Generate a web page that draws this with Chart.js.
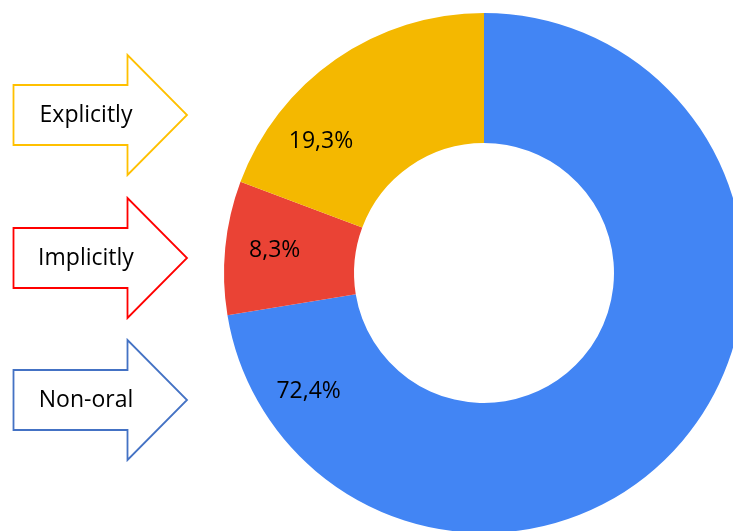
<!DOCTYPE html>
<html>
<head>
<meta charset="utf-8">
<script src="https://cdn.jsdelivr.net/npm/chart.js@4"></script>
<style>
  html, body { margin: 0; padding: 0; background: #fff; overflow: hidden; }
  #wrap { position: absolute; left: 0; top: 0; width: 744px; height: 533px; }
</style>
</head>
<body>
<div id="wrap"><canvas id="shareChart"></canvas></div>
<script>
// slice data (clockwise from the top)
const categories = ["Non-oral", "Implicitly", "Explicitly"];
const shares = [72.4, 8.3, 19.3];
const sliceColors = ["#4285F4", "#EA4335", "#F4B800"];
const arrowColors = ["#4472C4", "#FF0000", "#FFC000"];

// where each percentage sits along its slice (0 = start, 1 = end)
const labelAlong = [0.907, 0.53, 0.27];
// vertical centre of each arrow on the left
const arrowCenters = [400, 258, 115];

const FONT = "23px 'Open Sans', sans-serif";

function drawArrow(ctx, cy, color) {
  const left = 13.5, base = 127.5, tip = 187;
  ctx.beginPath();
  ctx.moveTo(left, cy - 30);
  ctx.lineTo(base, cy - 30);
  ctx.lineTo(base, cy - 60);
  ctx.lineTo(tip, cy);
  ctx.lineTo(base, cy + 60);
  ctx.lineTo(base, cy + 30);
  ctx.lineTo(left, cy + 30);
  ctx.closePath();
  ctx.fillStyle = "#fff";
  ctx.fill();
  ctx.lineWidth = 1.8;
  ctx.strokeStyle = color;
  ctx.stroke();
}

const annotations = {
  id: "annotations",
  afterDraw(chart) {
    const ctx = chart.ctx;
    ctx.save();
    ctx.font = FONT;
    ctx.textAlign = "center";
    ctx.textBaseline = "alphabetic";

    // arrows with category names
    categories.forEach(function (name, i) {
      drawArrow(ctx, arrowCenters[i], arrowColors[i]);
      ctx.fillStyle = "#000";
      ctx.fillText(name, 86, arrowCenters[i] + 7);
    });

    // percentage labels inside the ring
    ctx.fillStyle = "#000";
    const meta = chart.getDatasetMeta(0);
    meta.data.forEach(function (arc, i) {
      const p = arc.getProps(["x", "y", "startAngle", "endAngle", "outerRadius"], true);
      const a = p.startAngle + (p.endAngle - p.startAngle) * labelAlong[i];
      const r = p.outerRadius * 0.81;
      const x = p.x + Math.cos(a) * r;
      const y = p.y + Math.sin(a) * r;
      ctx.fillText(shares[i].toFixed(1).replace(".", ",") + "%", x, y + 8);
    });
    ctx.restore();
  }
};

new Chart(document.getElementById("shareChart"), {
  type: "doughnut",
  data: {
    labels: categories,
    datasets: [{
      data: shares,
      backgroundColor: sliceColors,
      borderWidth: 0,
      hoverOffset: 0
    }]
  },
  options: {
    responsive: true,
    maintainAspectRatio: false,
    animation: false,
    cutout: "50%",
    layout: { padding: { left: 224, top: 13 } },
    plugins: {
      legend: { display: false },
      tooltip: { enabled: false }
    }
  },
  plugins: [annotations]
});
</script>
</body>
</html>
